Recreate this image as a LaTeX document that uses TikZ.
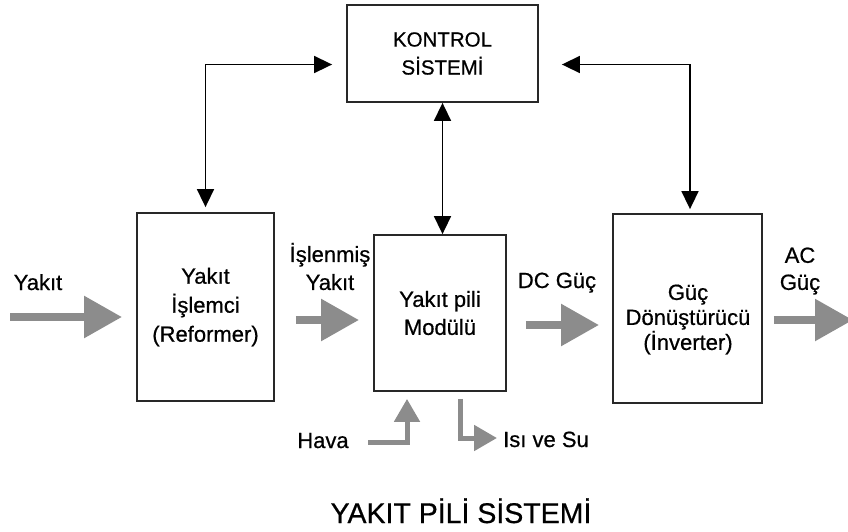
\documentclass[tikz,border=0pt]{standalone}
\usepackage{fontspec}
\setmainfont{Liberation Sans}[FakeBold=0.6]
\usetikzlibrary{arrows.meta}
\definecolor{arrgray}{RGB}{140,140,140}
\definecolor{boxline}{RGB}{40,40,40}
\newcommand\mytxt{\fontsize{22}{29}\selectfont}
\begin{document}
\begin{tikzpicture}[x=1pt,y=-1pt,
  every node/.style={inner sep=0pt, text=black},
  box/.style={draw=boxline, line width=1.8pt, align=center, font=\mytxt},
  lbl/.style={font=\mytxt, align=center},
  ctrlarr/.style={line width=1.6pt, draw=black, {Triangle[length=18pt,width=17pt]}-{Triangle[length=18pt,width=17pt]}},
  bigarr/.style={draw=arrgray, line width=8.5pt, -{Triangle[length=38pt,width=40pt]}},
  smallarr/.style={draw=arrgray, line width=5pt, -{Triangle[length=23pt,width=25pt]}}]
\clip (0,0) rectangle (848,531);
\fill[white] (0,0) rectangle (848,531);

% boxes
\node[box, font=\fontsize{20.5}{28}\selectfont, minimum width=191pt, minimum height=97pt] (ctrl) at (442.5,53.5) {KONTROL\\SİSTEMİ};
\node[box, minimum width=137pt, minimum height=188pt] (ref) at (205.5,307) {Yakıt\\İşlemci\\(Reformer)};
\node[box, minimum width=132pt, minimum height=156pt] (mod) at (440,313) {Yakıt pili\\[-1pt]Modülü};
\node[box, minimum width=149pt, minimum height=189pt] (conv) at (687.5,308.5) {};
\node[font=\fontsize{22}{25}\selectfont, align=center] (convtxt) at (688,319.5) {Güç\\Dönüştürücü\\(İnverter)};

% labels
\node[lbl, anchor=base] (yakit) at (38,290) {Yakıt};
\node[lbl] (islenmis) at (330,266.5) {İşlenmiş\\[-1pt]Yakıt};
\node[lbl, anchor=base] (dc) at (557,288) {DC Güç};
\node[lbl] (ac) at (800,271) {AC\\[-2pt]Güç};
\node[lbl, anchor=base] (hava) at (323,448) {Hava};
\node[lbl, anchor=base west] (isi) at (503,447) {Isı ve Su};
\node[font=\fontsize{28.5}{34}\selectfont, anchor=base] (title) at (461,523) {YAKIT PİLİ SİSTEMİ};

% control connectors
\draw[ctrlarr, shorten <=14pt, shorten >=5pt] ([yshift=-11pt]ctrl.west) -| (ref.north);
\draw[ctrlarr] (ctrl.south) -- (ctrl.south |- mod.north);
\draw[ctrlarr, shorten <=23pt, shorten >=4pt] ([yshift=-11pt]ctrl.east) -| ([xshift=2.5pt]conv.north);

% big flow arrows
\coordinate (yin) at (10,317);
\draw[bigarr, shorten >=14pt] (yin) -- (yin -| ref.west);
\coordinate (y320) at (0,320);
\draw[bigarr, shorten <=21pt, shorten >=14pt] (ref.east |- y320) -- (mod.west |- y320);
\coordinate (y325) at (0,325);
\draw[bigarr, shorten <=19pt, shorten >=13pt] (mod.east |- y325) -- (conv.west |- y325);
\coordinate (acout) at (853,320);
\draw[bigarr, shorten <=11pt] (conv.east |- acout) -- (acout);

% small arrows
\coordinate (havain) at (368,442);
\draw[smallarr] (havain) -| ([xshift=-33pt,yshift=-7pt]mod.south);
\coordinate (isiout) at (497,438);
\draw[smallarr] ([xshift=20pt,yshift=-7pt]mod.south) |- (isiout);
\end{tikzpicture}
\end{document}
